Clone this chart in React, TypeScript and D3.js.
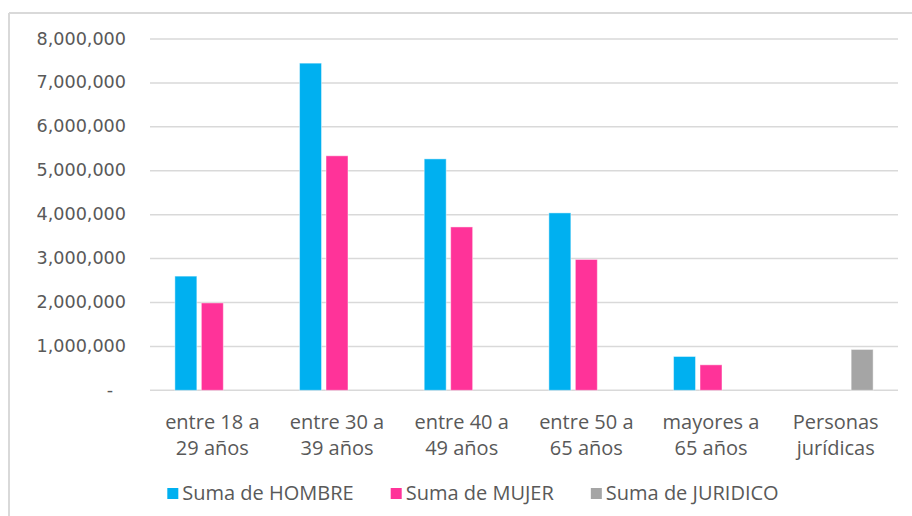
import React, { useLayoutEffect, useRef, useState } from "react";
import * as d3 from "d3";

const categories = [
  ["entre 18 a", "29 años"],
  ["entre 30 a", "39 años"],
  ["entre 40 a", "49 años"],
  ["entre 50 a", "65 años"],
  ["mayores a", "65 años"],
  ["Personas", "jurídicas"],
];
const seriesNames = ["Suma de HOMBRE", "Suma de MUJER", "Suma de JURIDICO"];
const hombre = [2600000, 7450000, 5270000, 4040000, 770000, 0];
const mujer = [1990000, 5340000, 3720000, 2980000, 580000, 0];
const juridico = [0, 0, 0, 0, 0, 930000];
const yTicks = [0, 1000000, 2000000, 3000000, 4000000, 5000000, 6000000, 7000000, 8000000];
const colors = ["#00B0F0", "#FF3399", "#A5A5A5"];

const W = 912;
const H = 516;
const FONT = "'Open Sans', sans-serif";
const TXT = "#595959";

export default function App() {
  const values = [hombre, mujer, juridico];
  const catKeys = categories.map((c) => c.join(" "));
  const x0 = d3.scaleBand<string>().domain(catKeys).range([150, 898]).padding(0);
  const x1 = d3
    .scaleBand<string>()
    .domain(seriesNames)
    .range([0, x0.bandwidth()])
    .paddingInner(0.17)
    .paddingOuter(0.94);
  const y = d3.scaleLinear().domain([0, 8000000]).range([390.3, 39]);
  const fmt = d3.format(",");

  const legendRefs = useRef<(SVGTextElement | null)[]>([]);
  const [widths, setWidths] = useState<number[]>([173, 149, 178]);
  useLayoutEffect(() => {
    const w = legendRefs.current.map((t) => (t ? t.getComputedTextLength() : 0));
    setWidths(w);
  }, []);
  const sq = 11;
  const gapText = 4;
  const gapItem = 37;
  const itemW = widths.map((w) => sq + gapText + w);
  const totalW = d3.sum(itemW) + gapItem * (itemW.length - 1);
  const legendStart = 473 - totalW / 2;
  const legendX: number[] = [];
  let acc = legendStart;
  itemW.forEach((w) => {
    legendX.push(acc);
    acc += w + gapItem;
  });

  return (
    <svg
      width={W}
      height={H}
      style={{ position: "absolute", left: 0, top: 0, background: "#fff" }}
    >
      <rect x={0} y={0} width={W} height={H} fill="#fff" />
      {/* chart frame */}
      <line x1={9} x2={W} y1={13} y2={13} stroke="#D9D9D9" strokeWidth={2} />
      <line x1={9} x2={9} y1={13} y2={H} stroke="#D9D9D9" strokeWidth={2} />
      {/* gridlines */}
      {yTicks.map((t) => (
        <line
          key={t}
          x1={150}
          x2={898}
          y1={y(t)}
          y2={y(t)}
          stroke="#D9D9D9"
          strokeWidth={1.5}
        />
      ))}
      {/* y labels */}
      {yTicks.map((t) => (
        <text
          key={"l" + t}
          x={t === 0 ? 113 : 126}
          y={y(t) + 5.5}
          textAnchor="end"
          fontFamily="'DejaVu Sans', sans-serif"
          fontSize={17.6}
          fill={TXT}
        >
          {t === 0 ? "-" : fmt(t)}
        </text>
      ))}
      {/* bars */}
      {catKeys.map((c, ci) => (
        <g key={c} transform={`translate(${x0(c)},0)`}>
          {seriesNames.map((s, si) => {
            const v = values[si][ci];
            if (!v) return null;
            return (
              <rect
                key={s}
                x={x1(s)}
                y={y(v)}
                width={x1.bandwidth()}
                height={y(0) - y(v)}
                fill={colors[si]}
                stroke="#ffffff"
                strokeOpacity={0.45}
                strokeWidth={1}
              />
            );
          })}
        </g>
      ))}
      {/* x labels */}
      {categories.map((c, ci) => (
        <text
          key={"x" + ci}
          x={(x0(catKeys[ci]) as number) + x0.bandwidth() / 2}
          y={429}
          textAnchor="middle"
          fontFamily={FONT}
          fontSize={20}
          fill={TXT}
        >
          <tspan x={(x0(catKeys[ci]) as number) + x0.bandwidth() / 2}>{c[0]}</tspan>
          <tspan x={(x0(catKeys[ci]) as number) + x0.bandwidth() / 2} dy={26}>
            {c[1]}
          </tspan>
        </text>
      ))}
      {/* legend */}
      {seriesNames.map((s, si) => (
        <g key={"lg" + s}>
          <rect x={legendX[si]} y={488} width={sq} height={sq} fill={colors[si]} />
          <text
            ref={(el) => {
              legendRefs.current[si] = el;
            }}
            x={legendX[si] + sq + gapText}
            y={500}
            fontFamily={FONT}
            fontSize={20}
            fill={TXT}
          >
            {s}
          </text>
        </g>
      ))}
    </svg>
  );
}
